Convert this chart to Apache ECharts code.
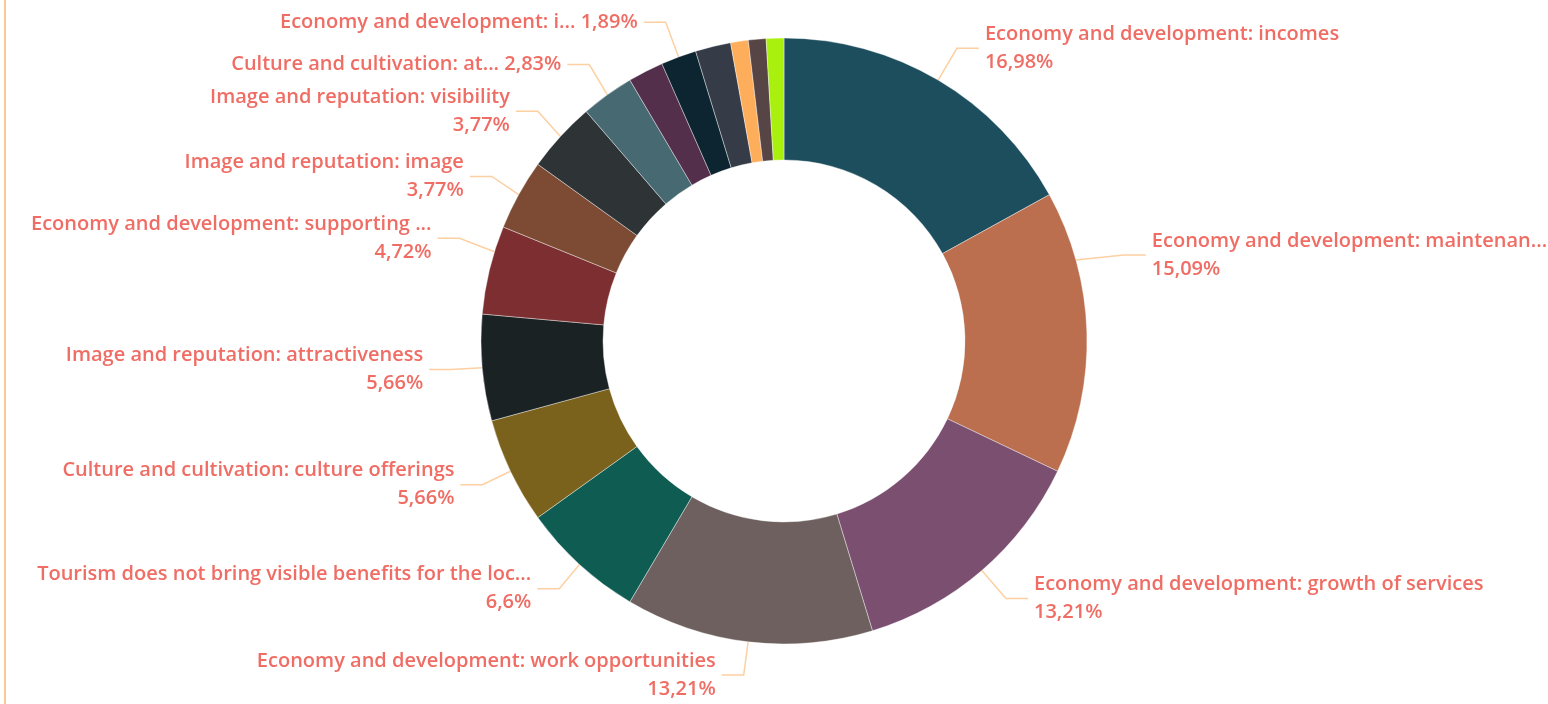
<!DOCTYPE html>
<html>
<head>
<meta charset="utf-8">
<title>Tourism impacts</title>
<script src="https://cdn.jsdelivr.net/npm/echarts@6/dist/echarts.min.js"></script>
<style>
  html, body { margin: 0; padding: 0; background: #ffffff; }
  #chart { width: 1548px; height: 704px; }
</style>
</head>
<body>
<div id="chart"></div>
<script>
// Categories, clockwise from twelve o'clock
const categories = [
  'Economy and development: incomes',
  'Economy and development: maintenan...',
  'Economy and development: growth of services',
  'Economy and development: work opportunities',
  'Tourism does not bring visible benefits for the loc...',
  'Culture and cultivation: culture offerings',
  'Image and reputation: attractiveness',
  'Economy and development: supporting ...',
  'Image and reputation: image',
  'Image and reputation: visibility',
  'Culture and cultivation: at...',
  'Other A',
  'Economy and development: i...',
  'Other B',
  'Other C',
  'Other D',
  'Other E'
];

// Share of answers, percent
const shares = [16.98, 15.09, 13.21, 13.21, 6.6, 5.66, 5.66, 4.72, 3.77, 3.77, 2.83, 1.89, 1.89, 1.89, 0.94, 0.94, 0.94];

// Slice colours
const sliceColors = [
  '#1C4E5E', '#BB6F4F', '#7B4F70', '#6E605F', '#0F5C52', '#7A611C',
  '#1B2224', '#7C2E30', '#7D4B34', '#2E3436', '#476A72', '#532F4B',
  '#0C2530', '#353C48', '#FEAD5A', '#574545', '#A9F00E'
];

// Which slices carry a label, and which use a single-line label
const labelShown = [1, 1, 1, 1, 1, 1, 1, 1, 1, 1, 1, 0, 1, 0, 0, 0, 0];
const singleLine = [0, 0, 0, 0, 0, 0, 0, 0, 0, 0, 1, 0, 1, 0, 0, 0, 0];

// Extra vertical nudge for a label (px), applied after the default layout
const labelNudgeY = [0, -76, 0, 0, 0, 0, 0, -22, 0, 0, 0, 0, 0, 0, 0, 0, 0];

// Ring geometry
const CX = 784, CY = 341, R_IN = 181, R_OUT = 303;

function fmtPct(v) {
  let s = v.toFixed(2).replace(/0+$/, '').replace(/\.$/, '');
  return s.replace('.', ',') + '%';
}

const labelFont = '"Open Sans", "Noto Sans", sans-serif';
const labelColor = '#EF6D64';

const pieData = categories.map((name, i) => ({
  name: name,
  value: shares[i],
  itemStyle: { color: sliceColors[i] },
  label: {
    show: !!labelShown[i],
    formatter: singleLine[i] ? '{b} ' + fmtPct(shares[i]) : '{b}\n' + fmtPct(shares[i])
  },
  labelLine: { show: !!labelShown[i] }
}));

// Move a label up/down and re-anchor its leader line on the ring edge
function nudgeLabel(p) {
  const dy = labelNudgeY[p.dataIndex] || 0;
  const pts = p.labelLinePoints;
  if (!dy || !pts) return {};
  const side = pts[2][0] > CX ? 1 : -1;
  const elbowY = pts[1][1] + dy;
  const endY = pts[2][1] + dy;
  const startY = elbowY + (pts[0][1] - pts[1][1]) + 4;
  const startX = CX + side * Math.sqrt(Math.max(0, R_OUT * R_OUT - (startY - CY) * (startY - CY)));
  return {
    dy: dy,
    labelLinePoints: [[startX, startY], [pts[1][0], elbowY], [pts[2][0], endY]]
  };
}

const chart = echarts.init(document.getElementById('chart'), null, { renderer: 'canvas' });

chart.setOption({
  backgroundColor: '#ffffff',
  animation: false,
  graphic: [{
    type: 'rect',
    shape: { x: 4, y: 0, width: 2, height: 704 },
    style: { fill: '#FFC892' },
    silent: true
  }],
  series: [{
    type: 'pie',
    center: [CX, CY],
    radius: [R_IN, R_OUT],
    startAngle: 90,
    clockwise: true,
    avoidLabelOverlap: true,
    itemStyle: { borderColor: '#ffffff', borderWidth: 0.4 },
    label: {
      color: labelColor,
      fontFamily: labelFont,
      fontSize: 20,
      fontWeight: 600,
      lineHeight: 28,
      overflow: 'none',
      distanceToLabelLine: 6
    },
    labelLine: {
      length: 37,
      length2: 22,
      lineStyle: { color: '#FDD0A2', width: 1.5 }
    },
    labelLayout: nudgeLabel,
    data: pieData
  }]
});
</script>
</body>
</html>
